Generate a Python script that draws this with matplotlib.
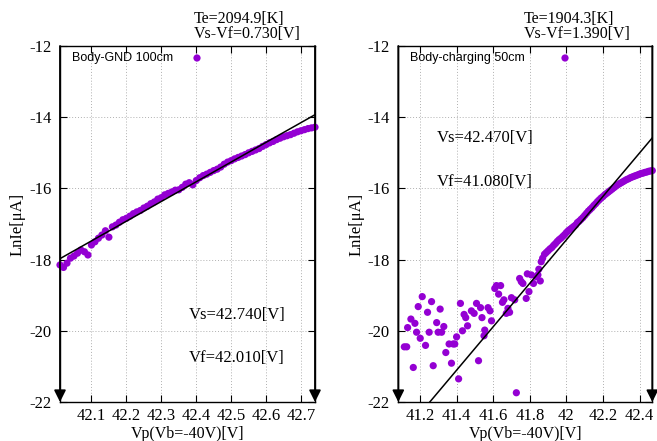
import numpy as np
import matplotlib
matplotlib.use('Agg')
import matplotlib.pyplot as plt

# left panel: Body-GND 100cm
vp_gnd = [42.01, 42.02, 42.03, 42.04, 42.05, 42.06, 42.07, 42.08, 42.09, 42.10,
          42.11, 42.12, 42.13, 42.14, 42.15, 42.16, 42.17, 42.18, 42.19, 42.20,
          42.21, 42.22, 42.23, 42.24, 42.25, 42.26, 42.27, 42.28, 42.29, 42.30,
          42.31, 42.32, 42.33, 42.34, 42.35, 42.36, 42.37, 42.38, 42.39, 42.40,
          42.41, 42.42, 42.43, 42.44, 42.45, 42.46, 42.47, 42.48, 42.49, 42.50,
          42.51, 42.52, 42.53, 42.54, 42.55, 42.56, 42.57, 42.58, 42.59, 42.60,
          42.61, 42.62, 42.63, 42.64, 42.65, 42.66, 42.67, 42.68, 42.69, 42.70,
          42.71, 42.72, 42.73, 42.74]
lnie_gnd = [-18.15, -18.22, -18.10, -17.96, -17.90, -17.82, -17.73, -17.78, -17.87, -17.59,
            -17.50, -17.40, -17.31, -17.19, -17.37, -17.08, -17.03, -16.95, -16.88, -16.84,
            -16.78, -16.71, -16.66, -16.62, -16.55, -16.50, -16.43, -16.38, -16.30, -16.26,
            -16.18, -16.14, -16.10, -16.05, -16.04, -15.97, -15.88, -15.84, -15.90, -15.78,
            -15.70, -15.64, -15.60, -15.55, -15.50, -15.46, -15.40, -15.32, -15.26, -15.22,
            -15.17, -15.13, -15.09, -15.05, -15.00, -14.96, -14.92, -14.88, -14.82, -14.77,
            -14.72, -14.68, -14.63, -14.59, -14.55, -14.52, -14.49, -14.45, -14.41, -14.38,
            -14.35, -14.32, -14.30, -14.28]

# right panel: Body-charging 50cm
vp_chg = [41.113, 41.126, 41.131, 41.149, 41.162, 41.171, 41.180, 41.189, 41.200, 41.211,
          41.229, 41.240, 41.249, 41.262, 41.271, 41.290, 41.298, 41.309, 41.317, 41.329,
          41.340, 41.358, 41.371, 41.380, 41.389, 41.399, 41.410, 41.420, 41.431, 41.440,
          41.449, 41.459, 41.480, 41.495, 41.508, 41.519, 41.530, 41.538, 41.553, 41.549,
          41.571, 41.582, 41.590, 41.608, 41.617, 41.629, 41.640, 41.650, 41.658, 41.671,
          41.680, 41.689, 41.699, 41.717, 41.726, 41.744, 41.753, 41.762, 41.780, 41.786,
          41.795, 41.808, 41.820, 41.835, 41.844, 41.849, 41.857, 41.862,
          41.87, 41.88, 41.89, 41.90, 41.91, 41.92, 41.93, 41.94, 41.95, 41.96,
          41.97, 41.98, 41.99, 42.00, 42.01, 42.02, 42.03, 42.04, 42.05, 42.06,
          42.07, 42.08, 42.09, 42.10, 42.11, 42.12, 42.13, 42.14, 42.15, 42.16,
          42.17, 42.18, 42.19, 42.20, 42.21, 42.22, 42.23, 42.24, 42.25, 42.26,
          42.27, 42.28, 42.29, 42.30, 42.31, 42.32, 42.33, 42.34, 42.35, 42.36,
          42.37, 42.38, 42.39, 42.40, 42.41, 42.42, 42.43, 42.44, 42.45, 42.46, 42.47]
lnie_chg = [-20.45, -20.45, -19.91, -19.67, -21.03, -19.79, -20.04, -19.32, -20.21, -19.04,
            -20.41, -19.48, -20.04, -19.18, -20.98, -19.77, -20.04, -19.39, -20.04, -19.88,
            -20.61, -20.37, -20.91, -20.37, -20.37, -20.17, -21.35, -19.23, -20.00, -19.54,
            -19.63, -19.86, -19.44, -19.51, -19.23, -20.84, -19.35, -19.63, -19.98, -20.14,
            -19.35, -19.44, -19.72, -18.81, -18.73, -18.97, -18.73, -19.20, -19.13, -19.51,
            -19.37, -19.48, -19.07, -19.13, -21.74, -18.53, -18.62, -18.67, -19.09, -18.40,
            -18.90, -18.43, -18.67, -18.48, -18.43, -18.27, -18.60, -18.06,
            -17.96, -17.85, -17.80, -17.75, -17.70, -17.66, -17.60, -17.55, -17.49, -17.44,
            -17.40, -17.35, -17.30, -17.24, -17.19, -17.15, -17.11, -17.07, -17.03, -16.96,
            -16.92, -16.87, -16.82, -16.76, -16.70, -16.64, -16.59, -16.54, -16.48, -16.43,
            -16.37, -16.32, -16.27, -16.23, -16.18, -16.14, -16.10, -16.06, -16.02, -15.98,
            -15.94, -15.90, -15.87, -15.84, -15.81, -15.78, -15.75, -15.73, -15.70, -15.68,
            -15.66, -15.64, -15.62, -15.60, -15.58, -15.57, -15.55, -15.54, -15.52, -15.51, -15.50]

# fit results
vf_vals = [42.010, 41.080]
vs_vals = [42.740, 42.470]
te_vals = [2094.9, 1904.3]
fit_end = [-13.93, -14.58]   # fit line value at Vs
labels = ['Body-GND 100cm', 'Body-charging 50cm']
xticks = [[42.1, 42.2, 42.3, 42.4, 42.5, 42.6, 42.7],
          [41.2, 41.4, 41.6, 41.8, 42.0, 42.2, 42.4]]
xticklabels = [['42.1', '42.2', '42.3', '42.4', '42.5', '42.6', '42.7'],
               ['41.2', '41.4', '41.6', '41.8', '42', '42.2', '42.4']]
yticks = [-12, -14, -16, -18, -20, -22]

purple = '#9400D3'
serif = 'Liberation Serif'
sans = 'Liberation Sans'

fig = plt.figure(figsize=(6.57, 4.41), dpi=100)
W, H = 657, 441
ax_px = [(60, 315), (398.3, 652.3)]
top_px, bot_px = 46, 402

data = [(vp_gnd, lnie_gnd), (vp_chg, lnie_chg)]

for i in range(2):
    x0, x1 = ax_px[i]
    ax = fig.add_axes([x0 / W, 1 - bot_px / H, (x1 - x0) / W, (bot_px - top_px) / H])
    vf, vs = vf_vals[i], vs_vals[i]
    ax.set_xlim(vf, vs)
    ax.set_ylim(-22, -12)
    ax.grid(True, color='#b0b0b0', linestyle=(0, (1, 2)), linewidth=0.7)
    ax.set_axisbelow(True)

    xs, ys = data[i]
    ax.scatter(xs, ys, s=27, color=purple, edgecolors='none', zorder=3, clip_on=False)

    # fitted line, slope = e/(k Te)
    slope = 11604.5 / te_vals[i]
    xl = np.array([vf, vs])
    yl = fit_end[i] + slope * (xl - vs)
    ax.plot(xl, yl, color='black', lw=1.1, zorder=4)

    # Vf / Vs arrows
    for xv in (vf, vs):
        ax.annotate('', xy=(xv, -22), xytext=(xv, -12),
                    arrowprops=dict(arrowstyle='-|>,head_length=0.7,head_width=0.35',
                                    color='black', lw=1.3, shrinkA=0, shrinkB=0),
                    annotation_clip=False, zorder=5)

    ax.set_xticks(xticks[i])
    ax.set_xticklabels(xticklabels[i])
    ax.set_yticks(yticks)
    ax.set_yticklabels([str(t) for t in yticks])
    ax.tick_params(direction='in', top=True, right=True, length=5, width=0.8,
                   labelsize=12, pad=6)
    ax.tick_params(axis='x', pad=4)
    for lab in ax.get_xticklabels() + ax.get_yticklabels():
        lab.set_fontfamily(serif)
    for sp in ax.spines.values():
        sp.set_linewidth(1.0)

    # legend (gnuplot style)
    ly = 1 - (58 - top_px) / (bot_px - top_px)
    ax.text(12 / (x1 - x0), ly, labels[i],
            transform=ax.transAxes, fontsize=9, family=sans, va='center', ha='left')
    legx = [197, 565][i]
    ax.scatter([(legx - x0) / (x1 - x0)], [ly],
               s=27, color=purple, edgecolors='none', transform=ax.transAxes, clip_on=False)

    # title block
    tx = [194, 524][i]
    fig.text(tx / W, 1 - 19 / H, 'Te=%.1f[K]' % te_vals[i], family=serif, fontsize=11.5,
             ha='left', va='center')
    fig.text(tx / W, 1 - 34 / H, 'Vs-Vf=%.3f[V]' % (vs - vf), family=serif, fontsize=11.5,
             ha='left', va='center')

    # Vs / Vf labels
    if i == 0:
        lx, ys_px, yf_px = 189, 315, 357.7
    else:
        lx, ys_px, yf_px = 436.7, 138, 181.7
    fig.text(lx / W, 1 - ys_px / H, 'Vs=%.3f[V]' % vs, family=serif, fontsize=12,
             ha='left', va='center')
    fig.text(lx / W, 1 - yf_px / H, 'Vf=%.3f[V]' % vf, family=serif, fontsize=12,
             ha='left', va='center')

    # axis labels
    fig.text((x0 - 42) / W, 1 - 224 / H, 'LnIe[μA]', family=serif, fontsize=12,
             rotation=90, ha='center', va='center')
    fig.text((x0 + x1) / 2 / W, 1 - 434 / H, 'Vp(Vb=-40V)[V]', family=serif, fontsize=11.5,
             ha='center', va='center')

fig.savefig('out.png', dpi=100)
